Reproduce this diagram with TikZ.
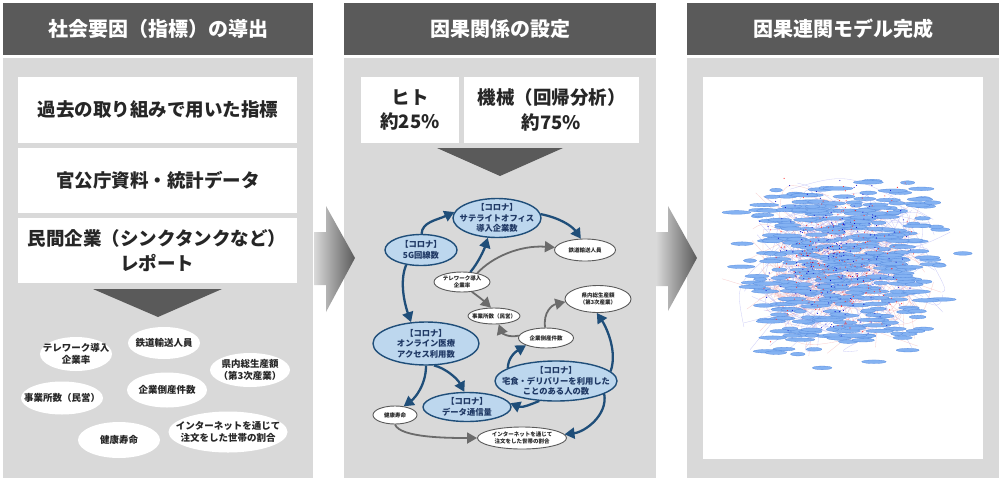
\documentclass[tikz,border=0pt]{standalone}
\usepackage{fontspec}
\setmainfont{Noto Sans CJK JP}
\usetikzlibrary{shapes.geometric,arrows.meta}
\definecolor{hdr}{HTML}{5A5A5A}
\definecolor{panel}{HTML}{D9D9D9}
\definecolor{txt}{HTML}{262626}
\definecolor{nblue}{HTML}{1F4E79}
\definecolor{nfill}{HTML}{BDD7EE}
\definecolor{ntxt}{HTML}{1F3864}
\definecolor{garrow}{HTML}{6B6B6B}
\definecolor{netfill}{HTML}{84B2F2}
\definecolor{netdraw}{HTML}{5A8EE0}
\definecolor{netred}{HTML}{F09A9A}
\definecolor{netblue}{HTML}{A0A0F2}
\begin{document}
\begin{tikzpicture}[x=1pt,y=-1pt,
  hdrtext/.style={text=white,font=\fontsize{20}{22}\selectfont\bfseries},
  boxtext/.style={text=txt,font=\fontsize{18.5}{24.5}\selectfont\bfseries,align=center},
  lell/.style={ellipse,fill=white,inner sep=-20pt,text=txt,font=\fontsize{9.5}{12}\selectfont\bfseries,align=center},
  bnode/.style={ellipse,draw=nblue,line width=1.4pt,fill=nfill,inner sep=-20pt,text=ntxt,font=\fontsize{8.3}{10.5}\selectfont\bfseries,align=center},
  wnode/.style={ellipse,draw=hdr,line width=0.9pt,fill=white,inner sep=-20pt,text=txt,font=\fontsize{5.5}{7.2}\selectfont\bfseries,align=center},
  barrow/.style={draw=nblue,line width=2.3pt,-{Triangle[length=10pt,width=11pt]}},
  garr/.style={draw=garrow,line width=1.8pt,-{Triangle[length=10pt,width=11pt]}},
]
\useasboundingbox (0,0) rectangle (1000,479);
\fill[white] (0,0) rectangle (1000,479);
% panels
\foreach \xa/\xb in {3/313,344/656,687/999}{
  \fill[hdr] (\xa,3) rectangle (\xb,55);
  \fill[panel] (\xa,58) rectangle (\xb,478);
}
\node[hdrtext] (h1) at (158,29) {社会要因（指標）の導出};
\node[hdrtext] (h2) at (500,29) {因果関係の設定};
\node[hdrtext] (h3) at (843,29) {因果連関モデル完成};
% panel 1 boxes
\fill[white] (18,77) rectangle (297,143);
\fill[white] (18,148) rectangle (297,213);
\fill[white] (18,218) rectangle (297,283);
\node[boxtext] (b1) at (158,110) {過去の取り組みで用いた指標};
\node[boxtext] (b2) at (158,180.5) {官公庁資料・統計データ};
\node[boxtext] (b3) at (157,250.5) {民間企業（シンクタンクなど）\\レポート};
\fill[hdr] (93,289) -- (222,289) -- (158,317) -- cycle;
% panel 2 boxes
\fill[white] (361,77) rectangle (459,143);
\fill[white] (464,77) rectangle (639,143);
\node[boxtext] (b4) at (410,110) {ヒト\\約25\%};
\node[boxtext] (b5) at (551.5,110) {機械（回帰分析）\\約75\%};
\fill[hdr] (437,148) -- (563,148) -- (500,176) -- cycle;
% panel 3 box
\fill[white] (703,77) rectangle (983,459);
% big arrows
\shade[left color=panel, right color=hdr] (314,232) -- (326,232) -- (326,206) -- (355,258) -- (326,312) -- (326,285) -- (314,285) -- cycle;
\shade[left color=panel, right color=hdr] (656,232) -- (668,232) -- (668,206) -- (697,258) -- (668,311) -- (668,286) -- (656,286) -- cycle;
% left ellipses
\node[lell,minimum width=72pt,minimum height=34pt] (l1) at (76,354) {テレワーク導入\\企業率};
\node[lell,minimum width=72pt,minimum height=32pt] (l2) at (164,343) {鉄道輸送人員};
\node[lell,minimum width=80pt,minimum height=34pt] (l3) at (250,370) {県内総生産額\\（第3次産業）};
\node[lell,minimum width=80pt,minimum height=35pt] (l4) at (167,390) {企業倒産件数};
\node[lell,minimum width=82pt,minimum height=33pt] (l5) at (62,398) {事業所数（民営）};
\node[lell,minimum width=119pt,minimum height=41pt] (l6) at (228,432) {インターネットを通じて\\注文をした世帯の割合};
\node[lell,minimum width=82pt,minimum height=36pt] (l7) at (119,440) {健康寿命};
% middle graph nodes
\node[bnode,minimum width=88pt,minimum height=39pt] (sat) at (497,218) {【コロナ】\\サテライトオフィス\\導入企業数};
\node[bnode,minimum width=72pt,minimum height=31pt] (g5) at (421,250) {【コロナ】\\5G回線数};
\node[wnode,minimum width=61pt,minimum height=22pt] (rail) at (585,250) {鉄道輸送人員};
\node[wnode,minimum width=56pt,minimum height=20pt] (tele) at (462,282) {テレワーク導入\\企業率};
\node[wnode,minimum width=66pt,minimum height=27pt] (gdp) at (598,299) {県内総生産額\\（第3次産業）};
\node[wnode,minimum width=52pt,minimum height=16pt] (est) at (494,316) {事業所数（民営）};
\node[wnode,minimum width=55pt,minimum height=20pt] (bank) at (546,338) {企業倒産件数};
\node[bnode,minimum width=106pt,minimum height=43pt] (med) at (426,343.5) {【コロナ】\\オンライン医療\\アクセス利用数};
\node[bnode,minimum width=122pt,minimum height=40pt] (deli) at (556,381) {【コロナ】\\宅食・デリバリーを利用した\\ことのある人の数};
\node[bnode,minimum width=88pt,minimum height=29pt] (data) at (467,407) {【コロナ】\\データ通信量};
\node[wnode,minimum width=44pt,minimum height=18pt] (life) at (395,415) {健康寿命};
\node[wnode,minimum width=89pt,minimum height=22pt] (net) at (522,438) {インターネットを通じて\\注文をした世帯の割合};
% edges
\draw[barrow] (g5.88) .. controls (422,222) and (437,220) .. (sat.172);
\draw[barrow] (sat.5) .. controls (560,218) and (572,226) .. (rail.110);
\draw[barrow] (tele.50) .. controls (478,263) and (484,250) .. (sat.245);
\draw[barrow] (g5.225) .. controls (399,282) and (405,305) .. (med.125);
\draw[barrow] (med.290) .. controls (445,368) and (457,378) .. (data.100);
\draw[barrow] (med.270) .. controls (426,385) and (415,398) .. (life.45);
\draw[barrow] (deli.230) .. controls (532,404) and (522,408) .. (data.5);
\draw[barrow] (deli.165) .. controls (508,358) and (515,352) .. (bank.200);
\draw[barrow] (deli.10) .. controls (618,350) and (605,325) .. (gdp.265);
\draw[barrow] (deli.345) .. controls (608,415) and (585,432) .. (net.5);
\draw[garr] (tele.30) .. controls (492,257) and (520,245) .. (rail.175);
\draw[garr] (tele.315) .. controls (478,296) and (485,302) .. (est.110);
\draw[garr] (bank.95) .. controls (543,312) and (552,305) .. (gdp.185);
\draw[garr] (bank.175) .. controls (508,338) and (502,333) .. (est.300);
\draw[garr] (life.270) .. controls (400,438) and (450,438) .. (net.180);
% network picture
\begin{scope}
\clip (703,77) rectangle (983,459);
\pgfmathsetseed{12345}
\foreach \i in {1,...,260}{
  \pgfmathsetmacro\ax{843+125*(0.4*(rand+rand)/2+0.6*rand)}
  \pgfmathsetmacro\ay{268+100*(0.35*(rand+rand)/2+0.65*rand)}
  \pgfmathsetmacro\bx{843+110*(rand+rand)/2}
  \pgfmathsetmacro\by{268+90*(rand+rand)/2}
  \pgfmathsetmacro\cx{(\ax+\bx)/2+40*rand}
  \pgfmathsetmacro\cy{(\ay+\by)/2+40*rand}
  \ifodd\i
    \draw[netred,line width=0.3pt,opacity=0.5] (\ax,\ay) .. controls (\cx,\cy) .. (\bx,\by);
  \else
    \draw[netblue,line width=0.3pt,opacity=0.55] (\ax,\ay) .. controls (\cx,\cy) .. (\bx,\by);
  \fi
}
\foreach \i in {1,...,400}{
  \pgfmathsetmacro\ex{843+128*(0.45*(rand+rand)/2+0.55*rand)}
  \pgfmathsetmacro\ey{268+104*(0.3*(rand+rand)/2+0.7*rand)}
  \pgfmathsetmacro\er{6+9*rnd}
  \fill[netfill,draw=netdraw,line width=0.3pt] (\ex,\ey) ellipse [x radius=\er pt, y radius=1.8pt];
}
\foreach \i in {1,...,420}{
  \pgfmathsetmacro\dx{838+80*(rand+rand)/2}
  \pgfmathsetmacro\dy{258+85*(rand+rand)/2}
  \ifodd\i
    \fill[red!85] (\dx,\dy) circle [radius=0.55pt];
  \else
    \fill[blue!80!black] (\dx,\dy) circle [radius=0.55pt];
  \fi
}
\end{scope}
\end{tikzpicture}
\end{document}
